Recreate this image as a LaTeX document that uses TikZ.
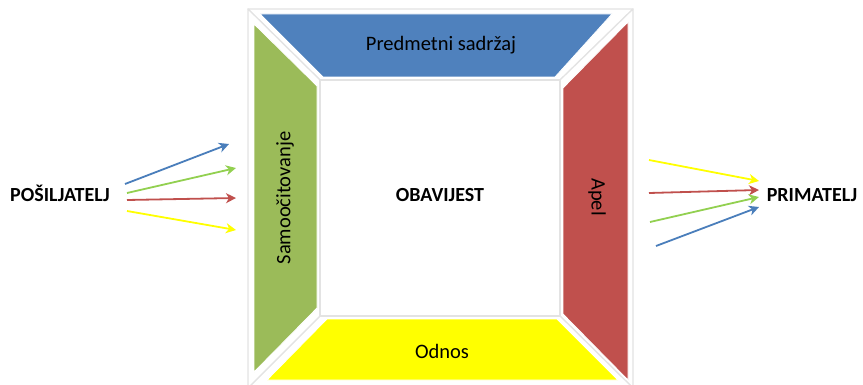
\documentclass[tikz,border=0pt]{standalone}
\usepackage{fontspec}
\setmainfont{Carlito}
\usetikzlibrary{arrows.meta}
\definecolor{cblue}{HTML}{4F81BD}
\definecolor{cgreen}{HTML}{9BBB59}
\definecolor{cred}{HTML}{C0504D}
\definecolor{cyel}{HTML}{FFFF00}
\definecolor{agreen}{HTML}{92D050}
\definecolor{ablue}{HTML}{4A7EBB}
\tikzset{
  bevel/.style={fill=white, draw=black!11, line width=1.2pt, line join=round},
  panel/.style={draw=white, line width=0.8pt, line join=miter},
  lab/.style={font=\fontsize{20.5}{24}\selectfont, inner sep=0pt},
  big/.style={font=\fontsize{20}{24}\selectfont\bfseries, inner sep=0pt},
  sig/.style={line width=1.8pt, -{Stealth[length=10pt,width=10pt,inset=3pt]}}
}
\begin{document}
\begin{tikzpicture}[x=1pt,y=-1pt]
\useasboundingbox (0,0) rectangle (863,385);
% frame corners
\coordinate (O1) at (248,9);  \coordinate (O2) at (633,9);
\coordinate (O3) at (633,388); \coordinate (O4) at (248,388);
\coordinate (I1) at (320,80); \coordinate (I2) at (560,80);
\coordinate (I3) at (560,316); \coordinate (I4) at (320,316);
% bevel regions
\draw[bevel] (O1) -- (O2) -- (I2) -- (I1) -- cycle;
\draw[bevel] (O2) -- (O3) -- (I3) -- (I2) -- cycle;
\draw[bevel] (O3) -- (O4) -- (I4) -- (I3) -- cycle;
\draw[bevel] (O4) -- (O1) -- (I1) -- (I4) -- cycle;
\draw[bevel] (I1) rectangle (I3);
% coloured panels
\fill[cblue, panel] (260,14) -- (612,14) -- (555,77) -- (323,77) -- cycle;
\fill[cgreen, panel] (254,24) -- (317,86) -- (317,308) -- (254,372) -- cycle;
\fill[cred, panel] (628,22) -- (628,380) -- (563,314) -- (563,88) -- cycle;
\fill[cyel, panel] (327,319) -- (557,319) -- (618,380) -- (267,380) -- cycle;
% labels
\node[lab] (pred) at (441,45) {Predmetni sadržaj};
\node[lab] (odnos) at (442,351) {Odnos};
\node[lab, rotate=90] (samo) at (285,198) {Samoočitovanje};
\node[lab, rotate=-90] (apel) at (597,197) {Apel};
\node[big] (obav) at (440,195) {OBAVIJEST};
\node[big] (pos) at (60,193) {POŠILJATELJ};
\node[big] (prim) at (812,195) {PRIMATELJ};
% arrow end points
\coordinate (lb0) at (125,184); \coordinate (lb1) at (229,144);
\coordinate (lg0) at (127,193); \coordinate (lg1) at (236,168);
\coordinate (lr0) at (127,200); \coordinate (lr1) at (236,198);
\coordinate (ly0) at (127,211); \coordinate (ly1) at (236,230);
\coordinate (ry0) at (649,160); \coordinate (ry1) at (759,181);
\coordinate (rr0) at (649,193); \coordinate (rr1) at (759,190);
\coordinate (rg0) at (650,222); \coordinate (rg1) at (759,197);
\coordinate (rb0) at (656,246); \coordinate (rb1) at (759,207);
\draw[sig, ablue] (lb0) -- (lb1);
\draw[sig, agreen] (lg0) -- (lg1);
\draw[sig, cred] (lr0) -- (lr1);
\draw[sig, cyel] (ly0) -- (ly1);
\draw[sig, cyel] (ry0) -- (ry1);
\draw[sig, cred] (rr0) -- (rr1);
\draw[sig, agreen] (rg0) -- (rg1);
\draw[sig, ablue] (rb0) -- (rb1);
\end{tikzpicture}
\end{document}
